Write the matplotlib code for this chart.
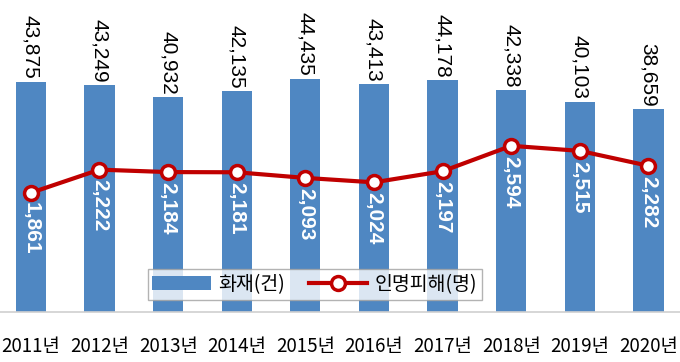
import matplotlib
matplotlib.use("Agg")
import matplotlib.pyplot as plt
import numpy as np

plt.rcParams['font.family'] = ['Noto Sans CJK KR', 'DejaVu Sans']

years = ['2011년', '2012년', '2013년', '2014년', '2015년', '2016년', '2017년', '2018년', '2019년', '2020년']
fires = [43875, 43249, 40932, 42135, 44435, 43413, 44178, 42338, 40103, 38659]
casualties = [1861, 2222, 2184, 2181, 2093, 2024, 2197, 2594, 2515, 2282]

bar_color = '#4F87C2'
line_color = '#C00000'

fig = plt.figure(figsize=(6.8, 3.62), dpi=100)
ax = fig.add_axes([0, 50/362, 1, 312/362])
x = np.arange(len(years))
bars = ax.bar(x, fires, width=0.44, color=bar_color, label='화재(건)', zorder=2)
ax.set_xlim(-0.45, 9.46)
ax.set_ylim(0, 59500)
ax.set_yticks([])
ax.set_xticks(x)
ax.set_xticklabels(years, fontsize=13.5, family=['Noto Sans CJK KR', 'DejaVu Sans'])
ax.tick_params(axis='x', length=0, pad=17)
for s in ['top', 'left', 'right']:
    ax.spines[s].set_visible(False)
ax.spines['bottom'].set_color('#D0D0D0')
ax.spines['bottom'].set_linewidth(1.2)

for xi, v in zip(x, fires):
    ax.annotate(f'{v:,}', (xi, v), xytext=(0, 2), textcoords='offset points',
                rotation=270, ha='center', va='bottom', fontsize=15,
                family='Liberation Sans', color='black')

ax2 = ax.twinx()
ax2.set_ylim(0, 4870)
ax2.set_yticks([])
for s in ['top', 'left', 'right', 'bottom']:
    ax2.spines[s].set_visible(False)
ln, = ax2.plot(x, casualties, color=line_color, lw=3, marker='o', ms=10,
               mfc='white', mec=line_color, mew=2.5, label='인명피해(명)', zorder=3)
for xi, v in zip(x, casualties):
    ax2.annotate(f'{v:,}', (xi, v), xytext=(0, -7), textcoords='offset points',
                 rotation=270, ha='center', va='top', fontsize=15, fontweight='bold',
                 family='Liberation Sans', color='white', zorder=4)

leg = ax2.legend([bars, ln], ['화재(건)', '인명피해(명)'], loc='center',
                 bbox_to_anchor=(0.463, 0.088), ncol=2, fontsize=14,
                 frameon=True, fancybox=False, edgecolor='#A0A0A0',
                 handlelength=3.0, columnspacing=1.2, handletextpad=0.4,
                 borderpad=0.25)
leg.get_frame().set_linewidth(1.0)

fig.savefig('out.png', dpi=100)
